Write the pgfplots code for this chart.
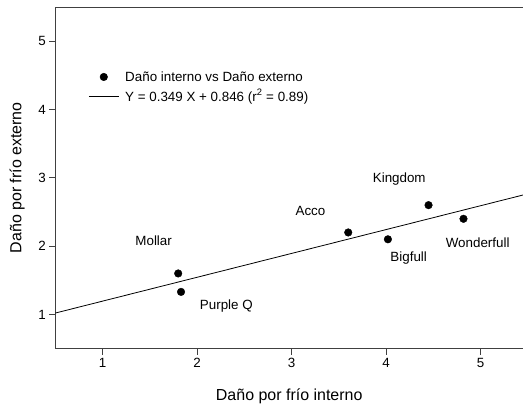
\documentclass[border=0pt]{standalone}
\usepackage{fontspec}
\setmainfont{Liberation Sans}
\usepackage{pgfplots}
\pgfplotsset{compat=1.18}
\begin{document}
\begin{tikzpicture}
\path[use as bounding box] (-55.3bp,-59bp) rectangle (466.8bp,348bp);
\begin{axis}[
  at={(0,0)}, anchor=south west,
  scale only axis, width=466.8bp, height=341bp,
  xmin=0.5, xmax=5.45, ymin=0.5, ymax=5.5,
  xtick={1,2,3,4,5}, ytick={1,2,3,4,5},
  separate axis lines, axis x line*=box, axis y line*=left,
  axis line style={-, line width=0.8bp, black!75},
  xtick pos=bottom, ytick pos=left, tick align=outside, major tick length=6bp,
  tick style={line width=0.8bp, black!75},
  /pgf/number format/assume math mode=true,
  ticklabel style={font=\fontsize{13.4}{15}\selectfont},
  xlabel={Daño por frío interno}, ylabel={Daño por frío externo},
  label style={font=\fontsize{16}{18}\selectfont},
  xlabel style={at={(axis description cs:0.5,-0.1408)}, anchor=center},
  ylabel style={at={(axis description cs:-0.082,0.5)}, anchor=center},
  legend style={draw=none, fill=none, at={(axis cs:0.847,4.59)}, anchor=north west,
    font=\fontsize{13.4}{15.6}\selectfont, inner sep=0pt, row sep=2.8bp,
    /tikz/every odd column/.append style={column sep=4bp}},
  legend cell align=left,
  legend image code/.code={\draw[mark repeat=2,mark phase=2,#1] plot coordinates {(0bp,0bp) (15bp,0bp) (30bp,0bp)};},
]
\addplot[only marks, mark=*, mark size=3.8bp, black] coordinates {
  (1.80,1.60)
  (1.83,1.33)
  (3.60,2.20)
  (4.02,2.10)
  (4.45,2.60)
  (4.82,2.40)
};
\addlegendentry{Daño interno vs Daño externo}
\addplot[black, line width=0.8bp, no marks] coordinates {(0.5,1.0205) (5.45,2.74805)};
\addlegendentry{Y = 0.349 X + 0.846 (r\textsuperscript{2} = 0.89)}
\begin{scope}[every node/.style={font=\fontsize{13.4}{15}\selectfont}]
\node at (axis cs:1.54,2.085) {Mollar};
\node at (axis cs:2.31,1.12) {Purple Q};
\node at (axis cs:3.20,2.52) {Acco};
\node at (axis cs:4.14,2.975) {Kingdom};
\node at (axis cs:4.24,1.82) {Bigfull};
\node at (axis cs:4.97,2.05) {Wonderfull};
\end{scope}
\end{axis}
\end{tikzpicture}
\end{document}
